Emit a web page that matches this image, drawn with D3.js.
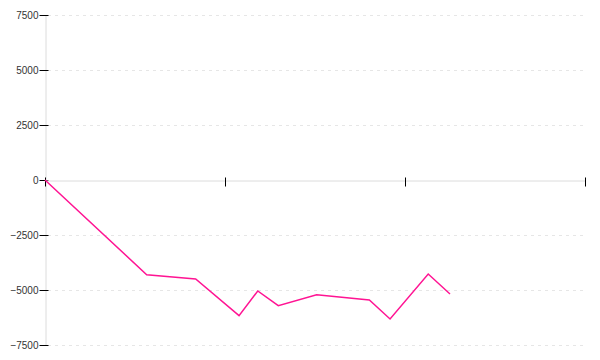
<!DOCTYPE html>
<html>
<head>
<meta charset="utf-8">
<script src="https://cdn.jsdelivr.net/npm/d3@7"></script>
<style>
  html, body { margin: 0; padding: 0; background: #fff; }
  svg { display: block; }
</style>
</head>
<body>
<svg id="chart" width="600" height="360"></svg>
<script>
// Data
const xValues = [0, 5.65, 8.37, 10.78, 11.82, 12.96, 15.09, 18.02, 19.17, 21.29, 22.5];
const yValues = [0, -4305, -4500, -6168, -5045, -5714, -5214, -5455, -6318, -4273, -5182];
const xTicks = [0, 10, 20, 30];
const yTicks = [-7500, -5000, -2500, 0, 2500, 5000, 7500];

const width = 600, height = 360;
const margin = {top: 15, right: 15, bottom: 15, left: 45};

const svg = d3.select("#chart");

const x = d3.scaleLinear().domain([0, 30]).range([margin.left, width - margin.right]);
const y = d3.scaleLinear().domain([-7500, 7500]).range([height - margin.bottom, margin.top]);

// Gridlines (dashed, excluding zero)
svg.append("g")
  .selectAll("line")
  .data(yTicks.filter(d => d !== 0))
  .join("line")
  .attr("x1", margin.left + 3)
  .attr("x2", width - margin.right)
  .attr("y1", d => y(d) + 0.5)
  .attr("y2", d => y(d) + 0.5)
  .attr("stroke", "#e6e6e6")
  .attr("stroke-dasharray", "3,4");

// Y axis
const yAxis = svg.append("g")
  .attr("transform", `translate(${margin.left + 0.5},0)`)
  .call(d3.axisLeft(y).tickValues(yTicks).tickSizeInner(6).tickSizeOuter(0).tickPadding(1)
    .tickFormat(d3.format("")));
yAxis.select(".domain").attr("stroke", "#dcdcdc");
yAxis.selectAll(".tick line").attr("x2", 3).attr("x1", -6).attr("stroke", "#000");
yAxis.selectAll(".tick text")
  .attr("font-family", "Liberation Sans, Arial, sans-serif")
  .attr("font-size", 10)
  .attr("fill", "#333")
  .text(d => d < 0 ? "\u2212" + Math.abs(d) : String(d));

// X axis at zero
const xAxis = svg.append("g")
  .attr("transform", `translate(0,${y(0) + 0.5})`)
  .call(d3.axisBottom(x).tickValues(xTicks).tickSizeInner(6).tickSizeOuter(0).tickFormat(""));
xAxis.select(".domain").attr("stroke", "#dcdcdc");
xAxis.selectAll(".tick line").attr("y1", -3).attr("y2", 6).attr("stroke", "#000");

// Line
const data = xValues.map((d, i) => [d, yValues[i]]);
svg.append("path")
  .datum(data)
  .attr("fill", "none")
  .attr("stroke", "#ff1493")
  .attr("stroke-width", 1.5)
  .attr("stroke-linejoin", "miter")
  .attr("d", d3.line().x(d => x(d[0])).y(d => y(d[1])));
</script>
</body>
</html>
